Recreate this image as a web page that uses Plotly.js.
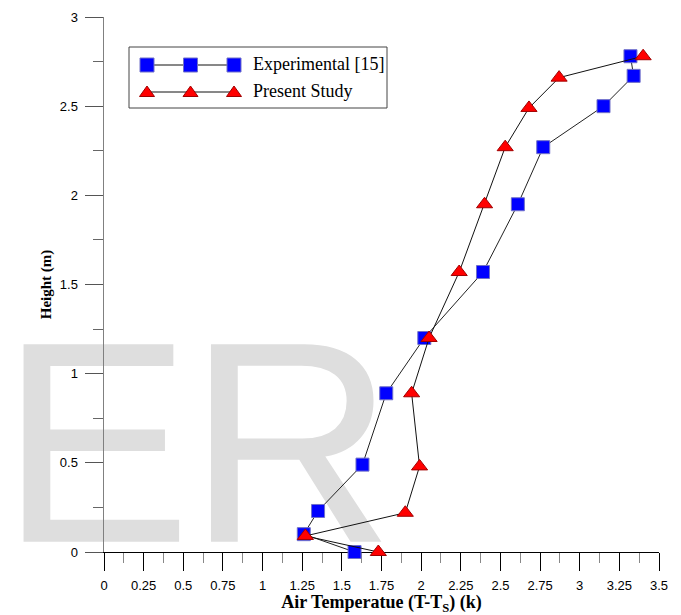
<!DOCTYPE html>
<html>
<head>
<meta charset="utf-8">
<script src="https://cdn.plot.ly/plotly-3.0.1.min.js"></script>
<style>
html,body{margin:0;padding:0;background:#fff;}
#wrap{position:relative;width:681px;height:615px;overflow:hidden;background:#fff;}
#wm{position:absolute;left:0;top:0;}
#chart{position:absolute;left:0;top:0;width:681px;height:615px;}
</style>
</head>
<body>
<div id="wrap">
<svg id="wm" width="681" height="615"><text x="0" y="541.7" letter-spacing="-4" font-family="Liberation Sans, Arial, sans-serif" font-size="287" fill="#DEDEDE">ER</text></svg>
<div id="chart"></div>
</div>
<script>
// ---- data ----
const expTemp    = [1.58, 1.26, 1.35, 1.63, 1.78, 2.02, 2.39, 2.61, 2.77, 3.15, 3.34, 3.32];
const expHeight  = [0.00, 0.10, 0.23, 0.49, 0.89, 1.20, 1.57, 1.95, 2.27, 2.50, 2.67, 2.78];
const presTemp   = [1.73, 1.27, 1.90, 1.99, 1.94, 2.05, 2.24, 2.40, 2.53, 2.68, 2.87, 3.40];
const presHeight = [0.00, 0.09, 0.22, 0.48, 0.89, 1.20, 1.57, 1.95, 2.27, 2.49, 2.66, 2.78];
const seriesNames = ['Experimental [15]', 'Present Study'];
const xTickVals = [0, 0.25, 0.5, 0.75, 1, 1.25, 1.5, 1.75, 2, 2.25, 2.5, 2.75, 3, 3.25, 3.5];
const xTickText = ['0', '0.25', '0.5', '0.75', '1', '1.25', '1.5', '1.75', '2', '2.25', '2.5', '2.75', '3', '3.25', '3.5'];
const yTickVals = [0, 0.5, 1, 1.5, 2, 2.5, 3];
const yTickText = ['0', '0.5', '1', '1.5', '2', '2.5', '3'];
const xTitle = 'Air Temperatue (T-T<sub>S</sub>) (k)';
const yTitle = 'Height (m)';

// ---- geometry ----
const L = 104, T = 17, W = 555, H = 535;
const px2x = p => (p - L) / W;
const py2y = p => (T + H - p) / H;

const BLUE = '#0000FF', BLUE_EDGE = '#7070c8';
const RED = '#FF0000', RED_EDGE = '#a00000';

const traces = [
  {
    x: expTemp, y: expHeight, name: seriesNames[0], type: 'scatter', mode: 'lines+markers',
    line: {color: '#222', width: 1},
    marker: {symbol: 'square', size: 13, color: BLUE, line: {color: BLUE_EDGE, width: 1}},
    cliponaxis: false, showlegend: false
  },
  {
    x: presTemp, y: presHeight, name: seriesNames[1], type: 'scatter', mode: 'lines+markers',
    line: {color: '#111', width: 1},
    marker: {symbol: 'triangle-up', size: 14, color: RED, line: {color: RED_EDGE, width: 1}},
    cliponaxis: false, showlegend: false
  }
];

// ---- custom legend (Grapher style: three symbols on a line) ----
const legendRows = [{cy: 65, kind: 'square'}, {cy: 92, kind: 'triangle'}];
const legendSymX = [147, 190.5, 234];
const shapes = [
  {type: 'rect', xref: 'paper', yref: 'paper', x0: px2x(129), x1: px2x(387), y0: py2y(108), y1: py2y(47),
   line: {color: '#444', width: 1}, fillcolor: 'rgba(255,255,255,0)', layer: 'above'}
];
const annotations = [];
legendRows.forEach((row, i) => {
  shapes.push({type: 'line', xref: 'paper', yref: 'paper', x0: px2x(legendSymX[0]), x1: px2x(legendSymX[2]),
    y0: py2y(row.cy), y1: py2y(row.cy), line: {color: '#111', width: 1}, layer: 'above'});
  legendSymX.forEach(cx => {
    if (row.kind === 'square') {
      shapes.push({type: 'rect', xref: 'paper', yref: 'paper', xsizemode: 'pixel', ysizemode: 'pixel',
        xanchor: px2x(cx), yanchor: py2y(row.cy), x0: -7, x1: 7, y0: -7, y1: 7,
        fillcolor: BLUE, line: {color: BLUE_EDGE, width: 1}, layer: 'above'});
    } else {
      shapes.push({type: 'path', xref: 'paper', yref: 'paper', xsizemode: 'pixel', ysizemode: 'pixel',
        xanchor: px2x(cx), yanchor: py2y(row.cy), path: 'M-7.5,-4.5 L7.5,-4.5 L0,6 Z',
        fillcolor: RED, line: {color: RED_EDGE, width: 1}, layer: 'above'});
    }
  });
  annotations.push({xref: 'paper', yref: 'paper', x: px2x(251), y: py2y(row.cy - 1), xanchor: 'left', yanchor: 'middle',
    text: seriesNames[i], showarrow: false,
    font: {family: 'Liberation Serif, Times New Roman, serif', size: 18, color: '#000'}});
});

const tickFont = {family: 'Liberation Sans, Arial, sans-serif', size: 13, color: '#000'};
const titleFont = {family: 'Liberation Serif, Times New Roman, serif', size: 18, color: '#000', weight: 'bold'};

const layout = {
  width: 681, height: 615,
  margin: {l: L, r: 681 - L - W, t: T, b: 615 - T - H, pad: 0},
  paper_bgcolor: 'rgba(0,0,0,0)', plot_bgcolor: 'rgba(0,0,0,0)',
  showlegend: false,
  xaxis: {
    range: [0, 3.5], tickmode: 'array', tickvals: xTickVals, ticktext: xTickText,
    ticks: 'outside', ticklen: 18, tickwidth: 1, tickcolor: '#000',
    showline: true, linecolor: '#000', linewidth: 1, showgrid: false, zeroline: false,
    tickfont: tickFont, ticklabelstandoff: 3,
    minor: {dtick: 0.125, tick0: 0, ticks: 'outside', ticklen: 10, tickwidth: 1, tickcolor: '#888', showgrid: false},
    layer: 'below traces', automargin: false,
    title: {text: xTitle, font: titleFont, standoff: 2}
  },
  yaxis: {
    range: [0, 3], tickmode: 'array', tickvals: yTickVals, ticktext: yTickText,
    ticks: 'outside', ticklen: 18, tickwidth: 1, tickcolor: '#555',
    showline: true, linecolor: '#808080', linewidth: 1.5, showgrid: false, zeroline: false,
    tickfont: tickFont, ticklabelstandoff: 4,
    minor: {dtick: 0.25, tick0: 0, ticks: 'outside', ticklen: 10, tickwidth: 1, tickcolor: '#666', showgrid: false},
    layer: 'below traces', automargin: false,
    title: {text: yTitle, font: {family: titleFont.family, size: 15, color: '#000', weight: 'bold'}, standoff: 4}
  },
  shapes: shapes,
  annotations: annotations
};

Plotly.newPlot('chart', traces, layout, {displayModeBar: false, staticPlot: true});
</script>
</body>
</html>
